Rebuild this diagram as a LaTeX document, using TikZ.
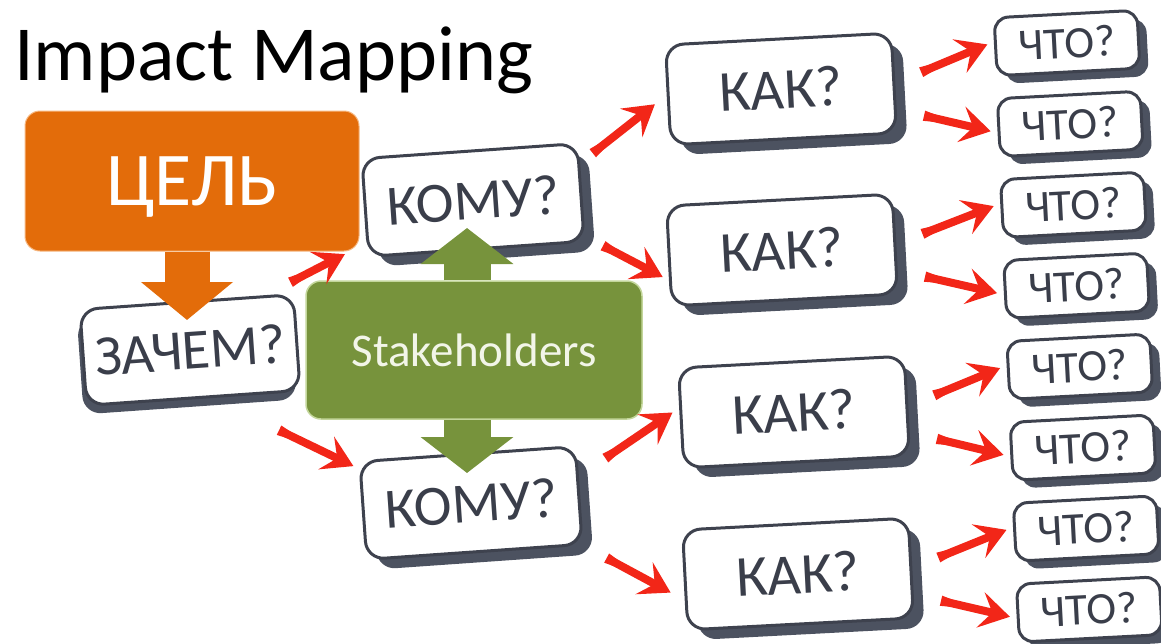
\documentclass[tikz,border=0pt]{standalone}
\usepackage{fontspec}
\setmainfont{Carlito}
\usepackage{xcolor}
\usetikzlibrary{positioning, shapes.geometric, arrows.meta, shadows}
\definecolor{goalorange}{RGB}{227,108,10}
\definecolor{goalrim}{RGB}{246,184,130}
\definecolor{stakegreen}{RGB}{119,147,60}
\definecolor{stakerim}{RGB}{195,214,155}
\definecolor{stakefont}{RGB}{242,245,232}
\definecolor{boxline}{RGB}{62,66,78}
\definecolor{boxshade}{RGB}{76,82,96}
\definecolor{boxtext}{RGB}{58,62,74}
\definecolor{arrowred}{RGB}{242,38,24}
\tikzset{
    heading/.style={anchor=base west, inner sep=0pt, font=\fontsize{78}{80}\selectfont},
    goal/.style={rectangle, rounded corners=15pt, draw=goalrim, line width=1pt, fill=goalorange, text=white, minimum width=334pt, minimum height=140pt, text depth=0pt, font=\fontsize{76}{78}\selectfont},
    stake/.style={rectangle, rounded corners=15pt, draw=stakerim, line width=1.5pt, fill=stakegreen, text=stakefont, minimum width=336pt, minimum height=138pt, font=\fontsize{47}{49}\selectfont},
    ask/.style={rectangle, rounded corners=18pt, draw=boxline, line width=3pt, fill=white, text=boxtext, inner sep=0pt},
    zachem/.style={ask, rotate=4, minimum width=214pt, minimum height=96pt, font=\fontsize{57}{60}\selectfont, general shadow={fill=boxshade, shadow xshift=-3pt, shadow yshift=-9pt}},
    komu/.style={ask, rotate=4, minimum width=216pt, minimum height=98pt, font=\fontsize{57}{60}\selectfont, general shadow={fill=boxshade, shadow xshift=11pt, shadow yshift=-10pt}},
    kak/.style={ask, rotate=3, minimum width=226pt, minimum height=100pt, font=\fontsize{58}{60}\selectfont, general shadow={fill=boxshade, shadow xshift=11pt, shadow yshift=-10pt}},
    chto/.style={ask, rotate=3, rounded corners=14pt, minimum width=143pt, minimum height=58pt, font=\fontsize{45}{47}\selectfont, general shadow={fill=boxshade, shadow xshift=9pt, shadow yshift=-8pt}},
    brush/.style={draw=arrowred, line width=8pt, {Triangle[length=32pt 0, width=8pt 0]}-{Stealth[length=30pt 0, width=36pt 0, inset=12pt 0]}, shorten <=4pt, shorten >=7pt},
    goalarrow/.style={draw=goalorange, line width=45pt, -{Triangle[length=38pt 0, width=90pt 0]}},
    stakearrow/.style={draw=stakegreen, line width=47pt, -{Triangle[length=36pt 0, width=91pt 0]}},
}

\begin{document}
\begin{tikzpicture}[x=1pt, y=-1pt]
        \useasboundingbox (0,0) rectangle (1161,643);
        \node [heading] (head) at (14,80) {Impact Mapping};
        \node [chto] (chto1) at (1067,43) {ЧТО?};
        \node [chto] (chto2) [below=20pt of chto1] {ЧТО?};
        \node [chto] (chto3) [below=20pt of chto2] {ЧТО?};
        \node [chto] (chto4) [below=20pt of chto3] {ЧТО?};
        \node [chto] (chto5) [below=20pt of chto4] {ЧТО?};
        \node [chto] (chto6) [below=20pt of chto5] {ЧТО?};
        \node [chto] (chto7) [below=20pt of chto6] {ЧТО?};
        \node [chto] (chto8) [below=20pt of chto7] {ЧТО?};
        \node [kak] (kak1) at (781,89) {КАК?};
        \node [kak] (kak2) at (782,250) {КАК?};
        \node [kak] (kak3) at (794,412) {КАК?};
        \node [kak] (kak4) at (798,574) {КАК?};
        \node [komu] (komu1) at (473,200) {КОМУ?};
        \node [komu] (komu2) at (471,503) {КОМУ?};
        \node [zachem] (zachem) at (190,350) {ЗАЧЕМ?};
        \node [stake] (stake) at (474,350) {Stakeholders};
        \node [goal] (goal) at (192,181) {ЦЕЛЬ};
        \draw[goalarrow, shorten >=30pt] ([xshift=-5pt]goal.south) -- ([xshift=-5pt]goal.south |- zachem.center);
        \draw[stakearrow, shorten >=28pt] ([xshift=-7pt]stake.north) -- ([xshift=-7pt]stake.north |- komu1.center);
        \draw[stakearrow, shorten >=30pt] ([xshift=-7pt]stake.south) -- ([xshift=-7pt]stake.south |- komu2.center);
        \draw[brush, shorten <=4pt, shorten >=24pt] (zachem.32) -- (komu1.198);
        \draw[brush, shorten <=50pt, shorten >=6pt] (zachem.-69) -- (komu2.159);
        \draw[brush, shorten <=-8pt, shorten >=15pt] (komu1.15) -- (kak1.west);
        \draw[brush, shorten <=-4pt] (komu1.-22) -- (kak2.192);
        \draw[brush, shorten <=8pt, shorten >=8pt] (komu2.10) -- (kak3.175);
        \draw[brush, shorten <=2pt, shorten >=16pt] (komu2.south east) -- (kak4.190);
        \draw[brush] (kak1.east) -- (chto1.176);
        \draw[brush] (kak1.-13) -- (chto2.184);
        \draw[brush] (kak2.east) -- (chto3.176);
        \draw[brush] (kak2.-13) -- (chto4.184);
        \draw[brush] (kak3.east) -- (chto5.176);
        \draw[brush] (kak3.-13) -- (chto6.184);
        \draw[brush] (kak4.east) -- (chto7.176);
        \draw[brush] (kak4.-13) -- (chto8.184);
    \end{tikzpicture}
\end{document}
